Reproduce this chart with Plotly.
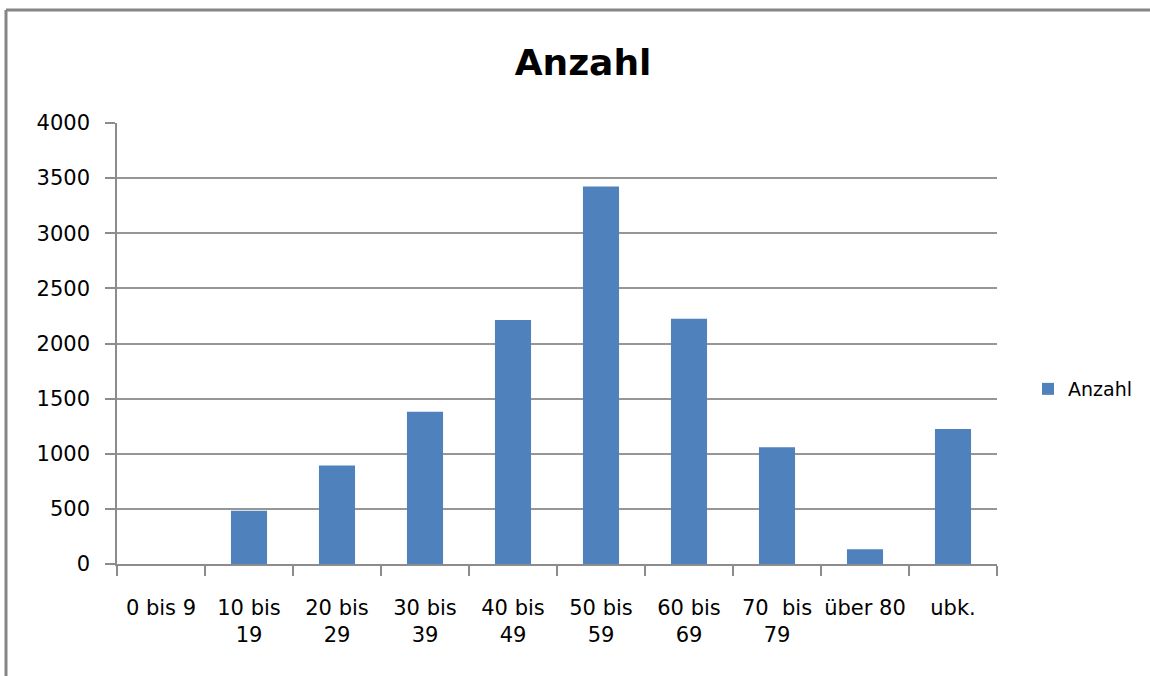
import plotly.graph_objects as go

categories = ["0 bis 9", "10 bis<br>19", "20 bis<br>29", "30 bis<br>39", "40 bis<br>49",
              "50 bis<br>59", "60 bis<br>69", "70  bis<br>79", "über 80", "ubk."]
values = [0, 483, 893, 1380, 2214, 3425, 2225, 1060, 134, 1224]
series_name = "Anzahl"
y_ticks = [0, 500, 1000, 1500, 2000, 2500, 3000, 3500, 4000]

W, H = 1150, 676
L, R, T, B = 117, 997, 123, 564

font_family = "DejaVu Sans"

fig = go.Figure()
fig.add_trace(go.Bar(
    x=categories, y=values, name=series_name,
    marker=dict(color="#4F81BD", line=dict(width=0)),
    showlegend=True,
))

fig.update_layout(
    width=W, height=H,
    margin=dict(l=L, r=W - R, t=T, b=H - B, pad=0, autoexpand=False),
    paper_bgcolor="white", plot_bgcolor="white",
    bargap=0.59,
    title=dict(text="<b>Anzahl</b>", x=583 / W, xref="container", xanchor="center",
               y=1 - 62 / H, yref="container", yanchor="middle",
               font=dict(family=font_family, size=36, color="black")),
    font=dict(family=font_family, size=19, color="black"),
    showlegend=True,
    legend=dict(x=(1028 - L) / (R - L), xanchor="left", y=(B - 389) / (B - T), yanchor="middle",
                font=dict(family=font_family, size=19, color="black"),
                bgcolor="rgba(0,0,0,0)", itemsizing="constant"),
    xaxis=dict(type="category", showgrid=False, showline=True, linecolor="#8C8C8C", linewidth=1.5,
               ticks="outside", tickson="boundaries", ticklen=10, tickcolor="#8C8C8C", tickwidth=1.5,
               tickangle=0, automargin=False,
               tickfont=dict(family=font_family, size=21, color="black"), ticklabelstandoff=24,
               fixedrange=True),
    yaxis=dict(range=[0, 4000], tickvals=y_ticks, showgrid=True, gridcolor="#969696", gridwidth=1.5,
               showline=True, linecolor="#8C8C8C", linewidth=1.5, zeroline=False, automargin=False,
               ticks="outside", ticklen=10, tickcolor="#8C8C8C", tickwidth=1.5,
               tickfont=dict(family=font_family, size=21, color="black"), ticklabelstandoff=11,
               fixedrange=True),
    shapes=[
        dict(type="line", xref="paper", yref="paper",
             x0=(6 - L) / (R - L), x1=(W + 5 - L) / (R - L),
             y0=(B - 10) / (B - T), y1=(B - 10) / (B - T),
             line=dict(color="#868686", width=3)),
        dict(type="line", xref="paper", yref="paper",
             x0=(6 - L) / (R - L), x1=(6 - L) / (R - L),
             y0=(B - 10) / (B - T), y1=(B - H - 5) / (B - T),
             line=dict(color="#868686", width=3)),
    ],
)

fig.write_html("out.html", config={"displayModeBar": False},
               post_script="document.body.style.margin='0';document.body.style.overflow='hidden';")
